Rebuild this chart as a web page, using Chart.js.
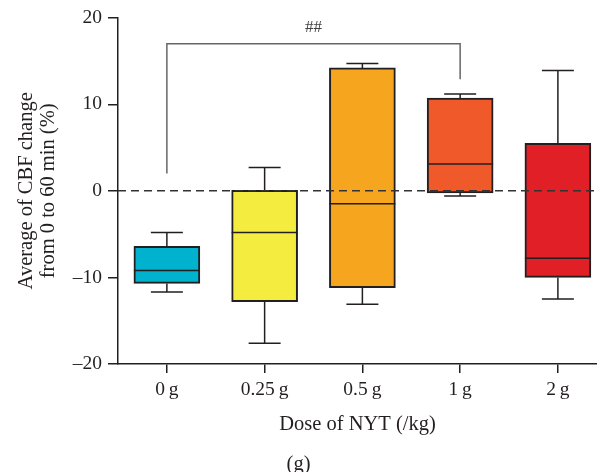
<!DOCTYPE html>
<html>
<head>
<meta charset="utf-8">
<script src="https://cdn.jsdelivr.net/npm/chart.js@4.4.1/dist/chart.umd.min.js"></script>
<style>
    html, body { margin: 0; padding: 0; background: #fff; }
    #wrap { width: 597px; height: 472px; }
</style>
</head>
<body>
<div id="wrap"><canvas id="cbfChart"></canvas></div>
<script>
// values (box = quartiles, whiskers = min/max)
const doses = ['0\u2009g', '0.25\u2009g', '0.5\u2009g', '1\u2009g', '2\u2009g'];
const whiskerLow = [-11.7, -17.6, -13.1, -0.6, -12.5];
const q1 = [-10.7, -12.8, -11.2, -0.25, -10.0];
const median = [-9.2, -4.8, -1.5, 3.1, -7.8];
const q3 = [-6.4, 0.05, 14.2, 10.7, 5.5];
const whiskerHigh = [-4.8, 2.7, 14.7, 11.2, 13.9];
const yTicks = [-20, -10, 0, 10, 20];
const boxColors = ['#00b2cd', '#f4ec3e', '#f6a61e', '#f05a2a', '#e01f27'];

// significance bracket 0 g vs 1 g
const bracketFrom = 0;
const bracketTo = 3;
const bracketTop = 17.0;
const bracketLeftEnd = 2.0;
const bracketRightEnd = 12.9;
const bracketLabel = '##';

const ink = '#231f20';
const serif = "'Liberation Serif', 'DejaVu Serif', serif";

const boxPlotExtras = {
    id: 'boxPlotExtras',
    afterDatasetsDraw(chart) {
        const { ctx, chartArea, scales: { x, y } } = chart;
        const bars = chart.getDatasetMeta(0).data;
        ctx.save();
        ctx.strokeStyle = ink;
        ctx.lineWidth = 1.5;

        doses.forEach((d, i) => {
            const cx = x.getPixelForValue(i);
            const half = bars[i].width / 2;
            const cap = 16;
            ctx.beginPath();
            // upper whisker
            ctx.moveTo(cx, y.getPixelForValue(q3[i]));
            ctx.lineTo(cx, y.getPixelForValue(whiskerHigh[i]));
            ctx.moveTo(cx - cap, y.getPixelForValue(whiskerHigh[i]));
            ctx.lineTo(cx + cap, y.getPixelForValue(whiskerHigh[i]));
            // lower whisker
            ctx.moveTo(cx, y.getPixelForValue(q1[i]));
            ctx.lineTo(cx, y.getPixelForValue(whiskerLow[i]));
            ctx.moveTo(cx - cap, y.getPixelForValue(whiskerLow[i]));
            ctx.lineTo(cx + cap, y.getPixelForValue(whiskerLow[i]));
            // median
            ctx.moveTo(cx - half, y.getPixelForValue(median[i]));
            ctx.lineTo(cx + half, y.getPixelForValue(median[i]));
            ctx.stroke();
        });

        // dashed zero line
        const y0 = y.getPixelForValue(0);
        ctx.setLineDash([8, 5]);
        ctx.strokeStyle = '#333';
        ctx.beginPath();
        ctx.moveTo(chartArea.left, y0);
        ctx.lineTo(chartArea.right, y0);
        ctx.stroke();
        ctx.setLineDash([]);

        // bracket
        const xl = x.getPixelForValue(bracketFrom);
        const xr = x.getPixelForValue(bracketTo);
        const yt = y.getPixelForValue(bracketTop);
        ctx.strokeStyle = '#666';
        ctx.beginPath();
        ctx.moveTo(xl, y.getPixelForValue(bracketLeftEnd));
        ctx.lineTo(xl, yt);
        ctx.lineTo(xr, yt);
        ctx.lineTo(xr, y.getPixelForValue(bracketRightEnd));
        ctx.stroke();

        ctx.fillStyle = '#444';
        ctx.font = '17px ' + serif;
        ctx.textAlign = 'center';
        ctx.textBaseline = 'middle';
        ctx.fillText(bracketLabel, (xl + xr) / 2, yt - 16);
        ctx.restore();
    }
};

new Chart(document.getElementById('cbfChart'), {
    type: 'bar',
    data: {
        datasets: [{
            data: doses.map((d, i) => ({ x: i, y: [q1[i], q3[i]] })),
            backgroundColor: boxColors,
            borderColor: ink,
            borderWidth: 2,
            borderSkipped: false,
            barThickness: 66,
        }]
    },
    options: {
        responsive: true,
        maintainAspectRatio: false,
        animation: false,
        layout: { padding: { top: 16, right: 0, bottom: 0, left: 0 } },
        plugins: {
            legend: { display: false },
            tooltip: { enabled: false },
            title: {
                display: true,
                text: '(g)',
                position: 'bottom',
                color: ink,
                font: { family: serif, size: 20.5, weight: 'normal', lineHeight: 0.7 },
                padding: { top: 0, bottom: 0 },
            },
        },
        scales: {
            x: {
                type: 'linear',
                min: -0.5,
                max: 4.4,
                offset: false,
                afterBuildTicks: scale => { scale.ticks = doses.map((d, i) => ({ value: i })); },
                afterFit: scale => { scale.height = 93.7; },
                ticks: {
                    callback: v => doses[v],
                    color: ink,
                    padding: 5,
                    maxRotation: 0,
                    font: { family: serif, size: 19.5 },
                },
                grid: { drawOnChartArea: false, offset: false, color: ink, lineWidth: 1.5, tickLength: 9 },
                border: { display: true, color: ink, width: 1.5 },
                title: {
                    display: true,
                    text: 'Dose of NYT (/kg)',
                    color: ink,
                    font: { family: serif, size: 20.5, lineHeight: 1.2 },
                    padding: { top: 0, bottom: 21 },
                },
            },
            y: {
                min: -20,
                max: 20,
                afterBuildTicks: scale => { scale.ticks = yTicks.map(v => ({ value: v })); },
                afterFit: scale => { scale.width = 118; },
                ticks: {
                    callback: v => v < 0 ? '\u2013' + Math.abs(v) : v,
                    color: ink,
                    padding: 6,
                    font: { family: serif, size: 19.5 },
                },
                grid: { drawOnChartArea: false, color: ink, lineWidth: 1.5, tickLength: 10 },
                border: { display: true, color: ink, width: 1.5 },
                title: {
                    display: true,
                    text: ['Average of CBF change', 'from 0 to 60 min (%)'],
                    color: ink,
                    font: { family: serif, size: 20.5, lineHeight: 1.05 },
                    padding: { top: 16, bottom: 0 },
                },
            }
        }
    },
    plugins: [boxPlotExtras]
});
</script>
</body>
</html>
